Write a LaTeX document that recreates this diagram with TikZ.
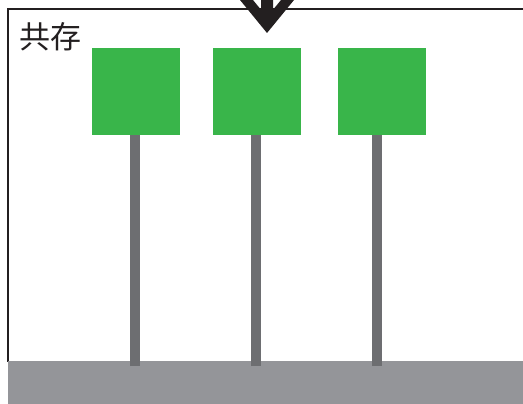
\documentclass[tikz,border=0pt]{standalone}
\usepackage{fontspec}
\newfontfamily\cjk{Noto Sans CJK SC}
\usetikzlibrary{positioning}
\definecolor{signgreen}{HTML}{39B54A}
\definecolor{polegray}{HTML}{6D6E71}
\definecolor{groundgray}{HTML}{949599}
\definecolor{inkblack}{HTML}{231F20}

\begin{document}
\begin{tikzpicture}[
    x=1pt,y=-1pt,
    sign/.style={fill=signgreen,minimum width=88pt,minimum height=87pt,inner sep=0pt},
    pole/.style={draw=polegray,line width=10pt},
    ground/.style={fill=groundgray,minimum width=515pt,minimum height=43pt,inner sep=0pt},
    frame/.style={draw=inkblack,line width=1.3pt}
]
\useasboundingbox (0,0) rectangle (523,404);
\draw[frame] (524,9) -| (8,362);
\node[anchor=west,inner sep=0pt,text=inkblack,font=\cjk\fontsize{31}{31}\selectfont] (label) at (19,37) {共存};
\node[sign] (sign1) at (136,91.5) {};
\node[sign] (sign2) at (257,91.5) {};
\node[sign] (sign3) at (382,91.5) {};
\node[ground] (ground) at (265.5,382.5) {};
\coordinate (foot1) at (135,366);
\coordinate (foot2) at (256,366);
\coordinate (foot3) at (377,366);
\draw[pole] (foot1) -- (foot1 |- sign1.south);
\draw[pole] (foot2) -- (foot2 |- sign2.south);
\draw[pole] (foot3) -- (foot3 |- sign3.south);
% arrow into the frame
\coordinate (tip) at (267,33);
\fill[inkblack] (tip) -- ++(-27,-33) -- ++(13,0) -- ++(8,9.8) -- ++(0,-9.8) -- ++(12,0)
    -- ++(0,9.8) -- ++(8,-9.8) -- ++(13,0) -- cycle;
\end{tikzpicture}
\end{document}
